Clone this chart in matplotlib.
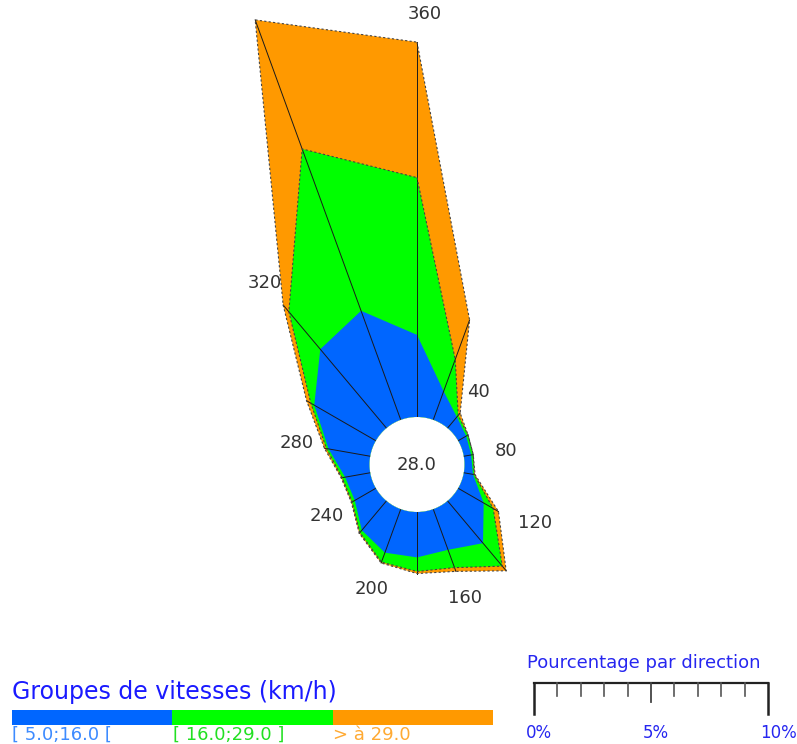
import numpy as np
import matplotlib
matplotlib.use("Agg")
import matplotlib.pyplot as plt

# wind rose data (% of time per 20 deg sector, per speed group)
directions = [0, 20, 40, 60, 80, 100, 120, 140, 160, 180, 200, 220, 240, 260, 280, 300, 320, 340]
low = [3.51, 1.30, 0.62, 0.40, 0.32, 0.40, 1.26, 2.36, 1.85, 1.94, 1.98, 1.64, 1.04, 1.09, 1.81, 3.04, 4.40, 4.96]
mid = [6.72, 1.45, 0.09, 0.09, 0.09, 0.05, 0.47, 1.28, 0.81, 0.60, 0.43, 0.13, 0.13, 0.13, 0.09, 0.17, 2.09, 7.36]
high = [5.79, 1.79, 0.13, 0.00, 0.00, 0.04, 0.26, 0.26, 0.17, 0.09, 0.04, 0.04, 0.04, 0.04, 0.09, 0.21, 0.38, 5.87]
calm = 28.0
label_dirs = [0, 40, 80, 120, 160, 200, 240, 280, 320]
group_labels = ["[ 5.0;16.0 [", "[ 16.0;29.0 ]", "> à 29.0"]
scale_ticks = [0, 5, 10]

colors = ["#0066ff", "#00ff00", "#ff9900"]
label_colors = ["#3d8bff", "#22e022", "#ffaa33"]

W, H = 797, 744
fig = plt.figure(figsize=(W / 100, H / 100), dpi=100)

cx, cy = 417, 464.5      # rose centre in pixels (from top)
px_pct = 23.4            # pixels per 1 %
calm_px = 47.5           # radius of calm circle
ax_r = 520

ax = fig.add_axes([(cx - ax_r) / W, (H - cy - ax_r) / H, 2 * ax_r / W, 2 * ax_r / H],
                  projection="polar")
ax.set_theta_zero_location("N")
ax.set_theta_direction(-1)
ax.set_rlim(0, (ax_r - calm_px) / px_pct)
ax.set_rorigin(-calm_px / px_pct)
ax.axis("off")

theta = np.deg2rad(directions)
cum1 = np.array(low)
cum2 = cum1 + np.array(mid)
cum3 = cum2 + np.array(high)

ax.fill(theta, cum3, color=colors[2], lw=0, zorder=1)
ax.fill(theta, cum2, color=colors[1], lw=0, zorder=2)
ax.fill(theta, cum1, color=colors[0], lw=0, zorder=3)

for t, r in zip(theta, cum3):
    ax.plot([t, t], [0, r], color="#1a1a1a", lw=0.7, zorder=4)

closed_t = np.append(theta, theta[0])
for c in (cum2, cum3):
    ax.plot(closed_t, np.append(c, c[0]), color="#444444", lw=0.8,
            ls=(0, (2, 2)), zorder=5)

tt = np.linspace(0, 2 * np.pi, 181)
ax.fill(tt, np.zeros_like(tt), color="white", lw=0, zorder=6)
ax.text(0.5, 0.5, f"{calm:.1f}", transform=ax.transAxes, ha="center", va="center",
        fontsize=13, color="#333333", zorder=7)

for d in label_dirs:
    i = directions.index(d)
    if d in (80, 120):
        ax.text(np.deg2rad(d), cum3[i] + 0.95, str(d), ha="left", va="center",
                fontsize=13, color="#333333", zorder=7)
    else:
        ax.text(np.deg2rad(d + (1 if d == 0 else 0)), cum3[i] + 1.2, str(d if d else 360),
                ha="center", va="center", fontsize=13, color="#333333", zorder=7)

# speed groups legend
fig.text(12 / W, (H - 692) / H, "Groupes de vitesses (km/h)", fontsize=17,
         color="#1a1aff", va="center")
lax = fig.add_axes([12 / W, (H - 725) / H, 481 / W, 15 / H])
lax.barh([0, 0, 0], [1, 1, 1], left=[0, 1, 2], height=1, color=colors)
lax.set_xlim(0, 3)
lax.set_ylim(-0.5, 0.5)
lax.axis("off")
for i, (lab, c) in enumerate(zip(group_labels, label_colors)):
    lax.text(i + 0.003, -0.55, lab, ha="left", va="top", fontsize=13, color=c,
             clip_on=False)

# percentage scale
fig.text(527 / W, (H - 663) / H, "Pourcentage par direction", fontsize=13,
         color="#2626f0", va="center")
sax = fig.add_axes([534 / W, (H - 716) / H, 234 / W, 35 / H])
sax.set_xlim(0, 10)
sax.set_ylim(-33, 2)
sax.axis("off")
sax.plot([0, 10], [0, 0], color="#222222", lw=1.6, clip_on=False)
for k in range(11):
    if k in (0, 10):
        sax.plot([k, k], [0, -31], color="#222222", lw=1.8, clip_on=False)
    elif k == 5:
        sax.plot([k, k], [0, -19], color="#444444", lw=1.3, clip_on=False)
    else:
        sax.plot([k, k], [0, -13], color="#555555", lw=1.2, clip_on=False)
for v in scale_ticks:
    sax.text(v - 0.34, -50, f"{v}%", ha="left", va="center", fontsize=12,
             color="#2626f0", clip_on=False)

fig.savefig("out.png", dpi=100)
